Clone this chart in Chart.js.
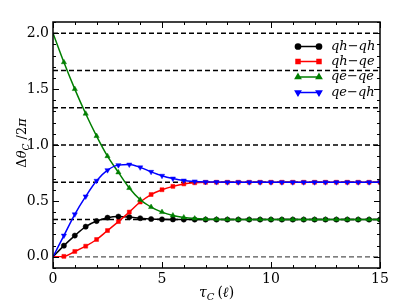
<!DOCTYPE html>
<html>
<head>
<meta charset="utf-8">
<script src="https://cdn.jsdelivr.net/npm/chart.js@4.4.1/dist/chart.umd.min.js"></script>
<style>
  html, body { margin: 0; padding: 0; background: #fff; }
  #wrap { width: 409px; height: 308px; }
</style>
</head>
<body>
<div id="wrap"><canvas id="chart"></canvas></div>
<script>
// tau_C values (x) at which the curves are sampled
const tau = [0, 0.5, 1, 1.5, 2, 2.5, 3, 3.5, 4, 4.5, 5, 5.5, 6, 6.5, 7, 7.5,
  8, 8.5, 9, 9.5, 10, 10.5, 11, 11.5, 12, 12.5, 13, 13.5, 14, 14.5, 15];

// series
const qhqh = [0, 0.10, 0.19, 0.27, 0.32, 0.35, 0.36, 0.355, 0.345, 0.338, 0.335, 0.334, 0.333, 0.333, 0.333, 0.333,
  0.333, 0.333, 0.333, 0.333, 0.333, 0.333, 0.333, 0.333, 0.333, 0.333, 0.333, 0.333, 0.333, 0.333, 0.333];
const qhqe = [0, 0.004, 0.048, 0.095, 0.155, 0.235, 0.315, 0.40, 0.49, 0.557, 0.60, 0.63, 0.652, 0.662, 0.666, 0.667,
  0.667, 0.667, 0.667, 0.667, 0.667, 0.667, 0.667, 0.667, 0.667, 0.667, 0.667, 0.667, 0.667, 0.667, 0.667];
const qeqe = [2.0, 1.74, 1.50, 1.28, 1.08, 0.90, 0.755, 0.615, 0.51, 0.445, 0.40, 0.37, 0.352, 0.342, 0.337, 0.335,
  0.334, 0.333, 0.333, 0.333, 0.333, 0.333, 0.333, 0.333, 0.333, 0.333, 0.333, 0.333, 0.333, 0.333, 0.333];
const qeqh = [0, 0.19, 0.38, 0.54, 0.68, 0.775, 0.82, 0.825, 0.80, 0.76, 0.725, 0.70, 0.682, 0.674, 0.670, 0.668,
  0.667, 0.667, 0.667, 0.667, 0.667, 0.667, 0.667, 0.667, 0.667, 0.667, 0.667, 0.667, 0.667, 0.667, 0.667];

// dashed reference levels
const levels = [0, 0.3333, 0.6667, 1, 1.3333, 1.6667, 2];

// tick labels
const xTicks = [0, 5, 10, 15];
const yTicks = [0, 0.5, 1, 1.5, 2];

const labels = ["qh\u2212qh", "qh\u2212qe", "qe\u2212qe", "qe\u2212qh"];
const colors = ["#000000", "#ff0000", "#007f00", "#0000ff"];
const styles = ["circle", "rect", "triangle", "triangle"];
const rotations = [0, 0, 0, 180];
const radii = [2.6, 2.8, 3.0, 3.0];

const SERIF = "'DejaVu Serif', serif";

function toPoints(ys) {
  return tau.map((t, i) => ({ x: t, y: ys[i] }));
}

const seriesList = [qhqh, qhqe, qeqe, qeqh];

const datasets = seriesList.map((ys, k) => ({
  label: labels[k],
  data: toPoints(ys),
  borderColor: colors[k],
  backgroundColor: colors[k],
  borderWidth: 1.5,
  pointStyle: styles[k],
  pointRotation: rotations[k],
  pointRadius: (c) => (c.dataIndex === 0 ? 0 : radii[k]),
  pointBorderWidth: 0.5,
  cubicInterpolationMode: "monotone",
  order: 3 - k,
}));

levels.forEach((v) => {
  datasets.push({
    label: "",
    data: [{ x: 0, y: v }, { x: 15, y: v }],
    borderColor: v === 0 ? "#555555" : "#000000",
    borderWidth: v === 0 ? 1.2 : 1.5,
    borderDash: [5, 3],
    pointRadius: 0,
    order: 10,
  });
});

// draws frame, inward ticks, legend and axis titles
const decor = {
  id: "decor",
  afterDraw(chart) {
    const { ctx, chartArea: a, scales } = chart;
    const xs = scales.x, ys = scales.y;
    ctx.save();
    ctx.strokeStyle = "#000";

    // ticks
    ctx.lineWidth = 1;
    ctx.beginPath();
    for (let i = 0; i <= 15; i++) {
      const px = Math.round(xs.getPixelForValue(i)) + 0.5;
      const len = i % 5 === 0 ? 6 : 3;
      ctx.moveTo(px, a.bottom); ctx.lineTo(px, a.bottom - len);
      ctx.moveTo(px, a.top); ctx.lineTo(px, a.top + len);
    }
    for (let j = -1; j <= 21; j++) {
      const py = Math.round(ys.getPixelForValue(j / 10)) + 0.5;
      const len = j % 5 === 0 ? 6 : 3;
      ctx.moveTo(a.left, py); ctx.lineTo(a.left + len, py);
      ctx.moveTo(a.right, py); ctx.lineTo(a.right - len, py);
    }
    ctx.stroke();

    // frame
    ctx.lineWidth = 1.5;
    ctx.strokeRect(a.left, a.top, a.right - a.left, a.bottom - a.top);

    // legend
    const lx0 = 298, lx1 = 319, tx = 331;
    const rowY = [46.5, 61.5, 77, 92.5];
    ctx.font = "italic 13px " + SERIF;
    ctx.textBaseline = "middle";
    ctx.textAlign = "left";
    for (let k = 0; k < 4; k++) {
      const y = rowY[k];
      ctx.strokeStyle = colors[k];
      ctx.lineWidth = 1.5;
      ctx.beginPath(); ctx.moveTo(lx0, y); ctx.lineTo(lx1, y); ctx.stroke();
      ctx.fillStyle = colors[k];
      [lx0, lx1].forEach((px) => {
        Chart.helpers.drawPoint(ctx, {
          pointStyle: styles[k], radius: radii[k], rotation: rotations[k], borderWidth: 0.5,
        }, px, y);
        ctx.fill();
      });
      ctx.fillStyle = "#000";
      ctx.fillText(labels[k], tx, y);
    }

    // x title: tau_C (l)
    ctx.fillStyle = "#000";
    ctx.textBaseline = "alphabetic";
    let x = 199;
    const by = 297;
    ctx.font = "italic 14px " + SERIF;
    ctx.fillText("\u03c4", x, by); x += ctx.measureText("\u03c4").width;
    ctx.font = "italic 10px " + SERIF;
    ctx.fillText("C", x, by + 3); x += ctx.measureText("C").width + 3;
    ctx.font = "14px " + SERIF;
    ctx.fillText("(", x, by); x += ctx.measureText("(").width;
    ctx.font = "italic 14px " + SERIF;
    ctx.fillText("\u2113", x, by); x += ctx.measureText("\u2113").width;
    ctx.font = "14px " + SERIF;
    ctx.fillText(")", x, by);

    // y title: Delta theta_C / 2 pi
    ctx.translate(22, 143);
    ctx.rotate(-Math.PI / 2);
    const parts = [
      ["\u0394", "13px ", 0],
      ["\u03b8", "italic 13px ", 0],
      ["C", "italic 9px ", 3],
      [" /2", "13px ", 0],
      ["\u03c0", "italic 13px ", 0],
    ];
    let w = 0;
    parts.forEach((p) => { ctx.font = p[1] + SERIF; w += ctx.measureText(p[0]).width; });
    let cx = -w / 2;
    parts.forEach((p) => {
      ctx.font = p[1] + SERIF;
      ctx.fillText(p[0], cx, 4 + p[2]);
      cx += ctx.measureText(p[0]).width;
    });
    ctx.restore();
  },
};

new Chart(document.getElementById("chart"), {
  type: "line",
  data: { datasets: datasets },
  options: {
    responsive: true,
    maintainAspectRatio: false,
    animation: false,
    devicePixelRatio: 1,
    layout: { padding: { top: 22, right: 29, left: 0, bottom: 0 } },
    plugins: { legend: { display: false }, tooltip: { enabled: false } },
    scales: {
      x: {
        type: "linear",
        min: 0,
        max: 15,
        afterBuildTicks: (s) => { s.ticks = xTicks.map((v) => ({ value: v })); },
        afterFit: (s) => { s.height = 40; },
        ticks: { color: "#000", font: { family: SERIF, size: 14 }, padding: 3, maxRotation: 0 },
        grid: { display: false, drawTicks: false },
        border: { display: false },
      },
      y: {
        min: -0.1,
        max: 2.1,
        afterBuildTicks: (s) => { s.ticks = yTicks.map((v) => ({ value: v })); },
        afterFit: (s) => { s.width = 53; },
        ticks: {
          color: "#000",
          font: { family: SERIF, size: 14 },
          padding: 4,
          callback: (v) => Number(v).toFixed(1),
        },
        grid: { display: false, drawTicks: false },
        border: { display: false },
      },
    },
  },
  plugins: [decor],
});
</script>
</body>
</html>
